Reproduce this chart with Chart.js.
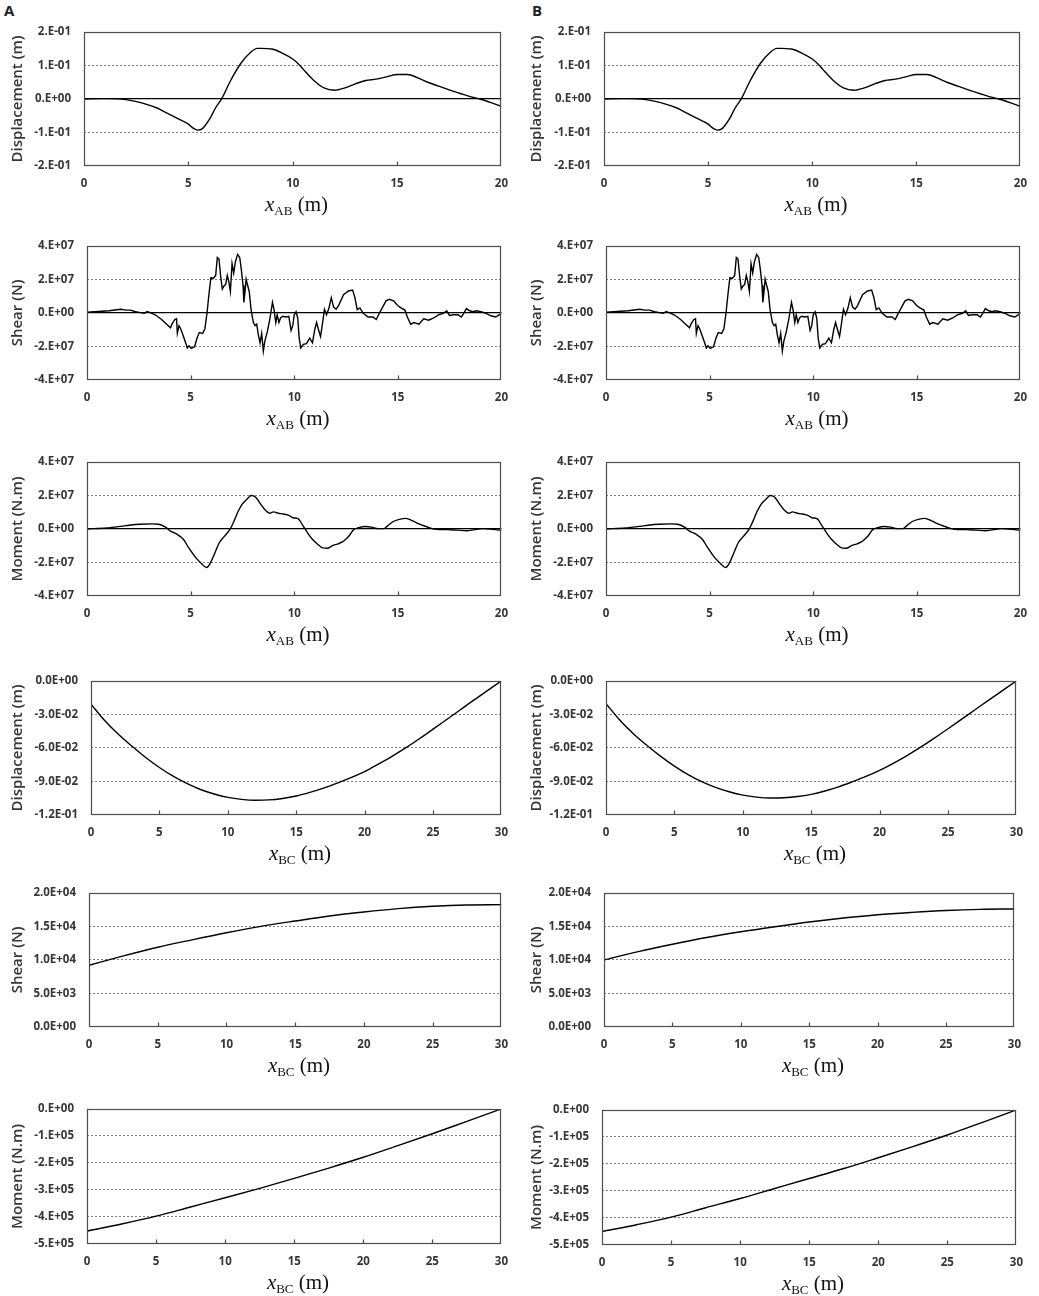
<!DOCTYPE html>
<html lang="en">
<head>
<meta charset="UTF-8">
<title>Beam displacement, shear and moment</title>
<script src="https://cdn.jsdelivr.net/npm/chart.js"></script>
<style>
  body { margin: 0; background: #fff; }
  #fig { position: relative; width: 1039px; height: 1296px; overflow: hidden; }
  #fig canvas { position: absolute; }
  .xt { position: absolute; text-align: center; font-family: "Liberation Serif", serif; font-size: 21px; line-height: 24px; color: #111; white-space: nowrap; }
  .xt sub { font-size: 13px; vertical-align: -4px; line-height: 0; }
  .tag { position: absolute; top: 3px; font-family: "Open Sans", sans-serif; font-weight: 700; font-size: 15px; line-height: 15px; color: #222; }
</style>
</head>
<body>
<div id="fig">
  <div class="tag" style="left:4px">A</div>
  <div class="tag" style="left:532px">B</div>
</div>
<script>
// ---- tick labels ----
const abXTicks = ['0', '5', '10', '15', '20'];
const bcXTicks = ['0', '5', '10', '15', '20', '25', '30'];
const dispAbTicks = ['2.E-01', '1.E-01', '0.E+00', '-1.E-01', '-2.E-01'];
const forceAbTicks = ['4.E+07', '2.E+07', '0.E+00', '-2.E+07', '-4.E+07'];
const dispBcTicks = ['0.0E+00', '-3.0E-02', '-6.0E-02', '-9.0E-02', '-1.2E-01'];
const shearBcTicks = ['2.0E+04', '1.5E+04', '1.0E+04', '5.0E+03', '0.0E+00'];
const momentBcTicks = ['0.E+00', '-1.E+05', '-2.E+05', '-3.E+05', '-4.E+05', '-5.E+05'];

// ---- span AB (same in A and B) ----
// displacement (m)
const abDispX = [0, 1, 2, 3, 3.5, 4, 4.5, 5, 5.25, 5.45, 5.7, 6, 6.3, 6.6, 7, 7.5, 8, 8.3, 8.5, 9,
  9.5, 10, 10.3, 10.5, 11, 11.5, 12, 12.5, 13, 13.5, 14, 14.5, 15, 15.5, 16, 16.5, 17, 17.5, 18, 18.5,
  19, 19.5, 20];
const abDisp = [0, 0.001, -0.002, -0.016, -0.027, -0.043, -0.059, -0.075, -0.088, -0.093, -0.087, -0.062, -0.027, 0.001, 0.052, 0.105, 0.14, 0.151, 0.151, 0.149,
  0.137, 0.119, 0.103, 0.089, 0.056, 0.033, 0.026, 0.033, 0.045, 0.055, 0.059, 0.066, 0.073, 0.073, 0.063, 0.049, 0.038, 0.027, 0.017, 0.007,
  -0.001, -0.011, -0.022];

// shear (x 1E7 N)
const abShearX = [0, 1.07, 1.63, 1.87, 2.1, 2.34, 2.58, 2.77, 2.9, 3.05, 3.29, 3.6, 3.92, 4.03, 4.1, 4.24, 4.32, 4.36, 4.44, 4.52,
  4.63, 4.76, 4.84, 4.92, 5.03, 5.19, 5.31, 5.42, 5.58, 5.69, 5.79, 5.9, 5.98, 6.1, 6.21, 6.29, 6.37, 6.45, 6.53, 6.61,
  6.69, 6.77, 6.85, 6.92, 7.0, 7.08, 7.16, 7.27, 7.37, 7.45, 7.53, 7.57, 7.64, 7.68, 7.75, 7.83, 7.92, 8.03, 8.11, 8.19,
  8.27, 8.35, 8.43, 8.51, 8.58, 8.7, 8.82, 8.95, 9.03, 9.11, 9.18, 9.26, 9.34, 9.45, 9.61, 9.74, 9.85, 9.93, 10.0, 10.09,
  10.17, 10.24, 10.32, 10.44, 10.59, 10.75, 10.88, 11.0, 11.08, 11.16, 11.27, 11.35, 11.46, 11.56, 11.67, 11.79, 11.9, 12.02, 12.14, 12.38,
  12.62, 12.82, 12.93, 13.04, 13.17, 13.33, 13.56, 13.8, 13.96, 14.07, 14.23, 14.43, 14.59, 14.8, 14.99, 15.15, 15.34, 15.46, 15.62, 15.78,
  16.02, 16.25, 16.49, 16.73, 16.96, 17.2, 17.36, 17.49, 17.68, 17.91, 18.07, 18.18, 18.31, 18.47, 18.63, 18.78, 19.02, 19.26, 19.49, 19.73,
  19.89, 20];
const abShear = [0.04, 0.13, 0.22, 0.17, 0.17, 0.07, 0.02, -0.02, 0.09, 0.02, -0.11, -0.39, -0.76, -0.89, -0.67, -0.39, -0.35, -1.22, -0.76, -0.94,
  -1.31, -1.78, -2.09, -1.96, -2.11, -2.02, -1.5, -1.17, -1.22, -0.94, -0.02, 1.28, 2.11, 2.06, 2.24, 3.31, 3.22, 2.2, 1.43, 1.61,
  1.69, 2.24, 1.83, 1.28, 2.94, 2.39, 3.04, 3.5, 3.31, 2.57, 1.65, 0.63, 1.46, 2.02, 1.65, 1.28, 0.17, -0.57, -0.76, -0.67,
  -1.31, -1.78, -1.22, -2.28, -1.69, -1.13, -0.39, 0.63, 0.17, -0.57, -0.11, -0.57, -0.3, -0.2, -0.24, -0.2, -1.04, -0.76, -0.11, 0.07,
  -0.3, -1.5, -2.09, -1.87, -1.83, -1.5, -1.78, -0.94, -0.57, -0.94, -1.41, -0.76, 0.22, -0.11, 0.26, 0.91, 0.35, 0.22, 0.44, 1.09,
  1.31, 1.37, 0.91, 0.2, 0.3, -0.02, -0.24, -0.24, -0.39, -0.11, 0.26, 0.72, 0.81, 0.72, 0.44, 0.3, 0.17, -0.24, -0.67, -0.57,
  -0.67, -0.35, -0.43, -0.3, -0.11, -0.02, 0.13, -0.15, -0.11, -0.11, -0.24, -0.02, 0.26, 0.13, 0.07, 0.13, 0.07, -0.02, -0.17, -0.24,
  -0.11, -0.02];

// moment (x 1E7 N.m)
const abMomentX = [0, 0.95, 1.89, 2.53, 3.16, 3.47, 3.79, 4.03, 4.34, 4.66, 4.89, 5.21, 5.52, 5.76, 5.92, 6.16, 6.39, 6.63, 6.9, 7.1,
  7.29, 7.5, 7.73, 7.92, 8.13, 8.37, 8.6, 8.81, 9.0, 9.23, 9.47, 9.76, 9.94, 10.18, 10.42, 10.66, 10.89, 11.13, 11.37, 11.6,
  11.84, 12.15, 12.39, 12.63, 12.87, 13.1, 13.42, 13.73, 14.05, 14.33, 14.52, 14.76, 15.07, 15.39, 15.71, 16.02, 16.34, 16.65, 16.97, 17.36,
  17.84, 18.31, 18.7, 19.1, 19.42, 19.73, 20];
const abMoment = [0, 0.06, 0.2, 0.28, 0.3, 0.28, 0.11, -0.13, -0.31, -0.63, -1.09, -1.65, -2.06, -2.3, -2.11, -1.46, -0.81, -0.44, -0.02, 0.48,
  1.04, 1.5, 1.78, 2.0, 1.91, 1.5, 1.13, 0.94, 1.02, 0.94, 0.89, 0.8, 0.67, 0.61, 0.2, -0.26, -0.63, -0.91, -1.13, -1.15,
  -1.0, -0.87, -0.72, -0.44, -0.04, 0.07, 0.15, 0.11, 0.02, 0.02, 0.2, 0.43, 0.57, 0.63, 0.48, 0.3, 0.15, 0.02, -0.04, -0.04,
  -0.07, -0.11, -0.04, 0.02, 0, -0.04, -0.09];

// ---- span BC ----
const bcDispX = [0, 1, 2, 3, 4, 5, 6, 7, 8, 9, 10, 11, 12, 13, 14, 15, 16, 17, 18, 19, 20, 21, 22, 23, 24, 25, 26, 27, 28, 29, 30];
const bcDispA = [-0.0208, -0.0355, -0.0478, -0.0585, -0.0685, -0.0775, -0.0853, -0.0918, -0.0972, -0.1012, -0.1042, -0.1060, -0.1068, -0.1065, -0.1052, -0.1030,
  -0.0998, -0.0960, -0.0915, -0.0866, -0.0812, -0.0745, -0.0675, -0.0600, -0.0518, -0.0432, -0.0345, -0.0258, -0.0170, -0.0085, 0];
const bcDispB = [-0.0203, -0.0350, -0.0472, -0.0578, -0.0675, -0.0762, -0.0838, -0.0902, -0.0953, -0.0992, -0.1022, -0.1040, -0.1048, -0.1046, -0.1035, -0.1015,
  -0.0985, -0.0948, -0.0903, -0.0855, -0.0800, -0.0737, -0.0668, -0.0593, -0.0512, -0.0428, -0.0342, -0.0256, -0.0170, -0.0085, 0];

const bcX = [0, 2.5, 5, 7.5, 10, 12.5, 15, 17.5, 20, 22.5, 25, 27.5, 30];
// shear (x 1E3 N)
const bcShearA = [9.2, 10.6, 11.9, 13.0, 14.05, 15.0, 15.8, 16.55, 17.15, 17.65, 18.0, 18.2, 18.25];
const bcShearB = [10.0, 11.25, 12.35, 13.35, 14.2, 14.95, 15.65, 16.25, 16.75, 17.1, 17.38, 17.55, 17.6];
// moment (x 1E5 N.m)
const bcMomentA = [-4.52, -4.26, -3.97, -3.63, -3.29, -2.94, -2.57, -2.19, -1.79, -1.36, -0.92, -0.46, 0];
const bcMomentB = [-4.5, -4.25, -3.97, -3.62, -3.28, -2.91, -2.54, -2.17, -1.77, -1.36, -0.93, -0.47, 0];

// ---- layout: [plot left, right, top, bottom] in page pixels ----
const COL_X = [0, 519];
const panels = [
  { col: 0, box: [84, 509, 22, 166], yTitle: 'Displacement (m)', yTicks: dispAbTicks, xTicks: abXTicks, sub: 'AB', xs: abDispX, ys: abDisp, unit: 1, smooth: true, zero: true },
  { col: 1, box: [604, 1028, 22, 166], yTitle: 'Displacement (m)', yTicks: dispAbTicks, xTicks: abXTicks, sub: 'AB', xs: abDispX, ys: abDisp, unit: 1, smooth: true, zero: true },
  { col: 0, box: [87, 509, 236, 380], yTitle: 'Shear (N)', yTicks: forceAbTicks, xTicks: abXTicks, sub: 'AB', xs: abShearX, ys: abShear, unit: 1e7, smooth: false, zero: true },
  { col: 1, box: [606, 1028, 236, 380], yTitle: 'Shear (N)', yTicks: forceAbTicks, xTicks: abXTicks, sub: 'AB', xs: abShearX, ys: abShear, unit: 1e7, smooth: false, zero: true },
  { col: 0, box: [87, 509, 452, 596], yTitle: 'Moment (N.m)', yTicks: forceAbTicks, xTicks: abXTicks, sub: 'AB', xs: abMomentX, ys: abMoment, unit: 1e7, smooth: true, zero: true },
  { col: 1, box: [606, 1028, 452, 596], yTitle: 'Moment (N.m)', yTicks: forceAbTicks, xTicks: abXTicks, sub: 'AB', xs: abMomentX, ys: abMoment, unit: 1e7, smooth: true, zero: true },
  { col: 0, box: [91, 509, 671, 815], yTitle: 'Displacement (m)', yTicks: dispBcTicks, xTicks: bcXTicks, sub: 'BC', xs: bcDispX, ys: bcDispA, unit: 1, smooth: true, zero: false },
  { col: 1, box: [606, 1024, 671, 815], yTitle: 'Displacement (m)', yTicks: dispBcTicks, xTicks: bcXTicks, sub: 'BC', xs: bcDispX, ys: bcDispB, unit: 1, smooth: true, zero: false },
  { col: 0, box: [89, 509, 883, 1027], yTitle: 'Shear (N)', yTicks: shearBcTicks, xTicks: bcXTicks, sub: 'BC', xs: bcX, ys: bcShearA, unit: 1e3, smooth: true, zero: false },
  { col: 1, box: [604, 1022, 883, 1027], yTitle: 'Shear (N)', yTicks: shearBcTicks, xTicks: bcXTicks, sub: 'BC', xs: bcX, ys: bcShearB, unit: 1e3, smooth: true, zero: false },
  { col: 0, box: [87, 509, 1099, 1244], yTitle: 'Moment (N.m)', yTicks: momentBcTicks, xTicks: bcXTicks, sub: 'BC', xs: bcX, ys: bcMomentA, unit: 1e5, smooth: true, zero: false },
  { col: 1, box: [602, 1024, 1100, 1245], yTitle: 'Moment (N.m)', yTicks: momentBcTicks, xTicks: bcXTicks, sub: 'BC', xs: bcX, ys: bcMomentB, unit: 1e5, smooth: true, zero: false }
];

const TXT = '#363636';
const fig = document.getElementById('fig');

// frame around the plot area and small inward ticks on the x axis
const framePlugin = {
  id: 'frame',
  afterDraw(chart) {
    const { ctx, chartArea: a, scales: { x } } = chart;
    const l = Math.round(a.left) + 0.5, r = Math.round(a.right) - 0.5;
    const t = Math.round(a.top) + 0.5, b = Math.round(a.bottom) - 0.5;
    ctx.save();
    ctx.strokeStyle = '#4d4d4d';
    ctx.lineWidth = 1.2;
    ctx.strokeRect(l, t, r - l, b - t);
    ctx.beginPath();
    x.ticks.slice(1, -1).forEach(tk => {
      const px = Math.round(x.getPixelForValue(tk.value)) + 0.5;
      ctx.moveTo(px, b);
      ctx.lineTo(px, b - 4);
    });
    ctx.stroke();
    ctx.restore();
  }
};

function makePanel(p) {
  const x0 = COL_X[p.col];
  const [L, R, T, B] = p.box;
  const padTop = 10, padRight = 10, xAxisH = 30;
  const w = R - x0 + padRight, h = B - T + padTop + xAxisH;

  const cv = document.createElement('canvas');
  cv.width = w; cv.height = h;
  cv.style.left = x0 + 'px';
  cv.style.top = (T - padTop) + 'px';
  cv.style.width = w + 'px';
  cv.style.height = h + 'px';
  fig.appendChild(cv);

  const xt = document.createElement('div');
  xt.className = 'xt';
  xt.style.left = L + 'px';
  xt.style.width = (R - L) + 'px';
  xt.style.top = (B + 26) + 'px';
  xt.innerHTML = '<i>x</i><sub>' + p.sub + '</sub> (m)';
  fig.appendChild(xt);

  const yPairs = p.yTicks.map(s => [parseFloat(s), s]).sort((a, b) => a[0] - b[0]);
  const yMin = yPairs[0][0], yMax = yPairs[yPairs.length - 1][0];
  const xVals = p.xTicks.map(Number);
  const isZero = c => p.zero && c.tick && c.tick.value === 0;
  const tickFont = { family: 'Open Sans', size: 11.5, weight: '700' };

  new Chart(cv, {
    type: 'line',
    data: {
      datasets: [{
        data: p.xs.map((x, i) => ({ x: x, y: p.ys[i] * p.unit })),
        borderColor: '#000',
        borderWidth: 1.4,
        pointRadius: 0,
        fill: false,
        tension: p.smooth ? 0.4 : 0,
        cubicInterpolationMode: p.smooth ? 'monotone' : 'default'
      }]
    },
    options: {
      responsive: false,
      animation: false,
      devicePixelRatio: 1,
      layout: { padding: { left: 0, top: padTop, right: padRight, bottom: 0 } },
      plugins: { legend: { display: false }, tooltip: { enabled: false } },
      scales: {
        x: {
          type: 'linear',
          min: xVals[0],
          max: xVals[xVals.length - 1],
          afterBuildTicks: s => { s.ticks = xVals.map(v => ({ value: v })); },
          afterFit: s => { s.height = xAxisH; },
          grid: { display: false, drawTicks: false },
          border: { display: false },
          ticks: {
            autoSkip: false, maxRotation: 0, padding: 11, color: TXT,
            font: tickFont,
            callback: (v, i) => p.xTicks[i]
          }
        },
        y: {
          type: 'linear',
          min: yMin,
          max: yMax,
          afterBuildTicks: s => { s.ticks = yPairs.map(q => ({ value: q[0] })); },
          afterFit: s => { s.width = L - x0; },
          grid: {
            drawTicks: false,
            color: c => {
              const v = c.tick ? c.tick.value : null;
              if (v === yMin || v === yMax) return 'rgba(0,0,0,0)';
              return isZero(c) ? '#000' : '#808080';
            },
            lineWidth: c => isZero(c) ? 1.3 : 1
          },
          border: { display: false, dash: c => isZero(c) ? [] : [2, 2] },
          ticks: {
            padding: 13, color: TXT,
            font: tickFont,
            callback: (v, i) => yPairs[i][1]
          },
          title: {
            display: true, text: p.yTitle, color: TXT,
            font: { family: 'Open Sans', size: 15, weight: '600' },
            padding: { top: 9, bottom: 0 }
          }
        }
      }
    },
    plugins: [framePlugin]
  });
}

panels.forEach(makePanel);
</script>
</body>
</html>
